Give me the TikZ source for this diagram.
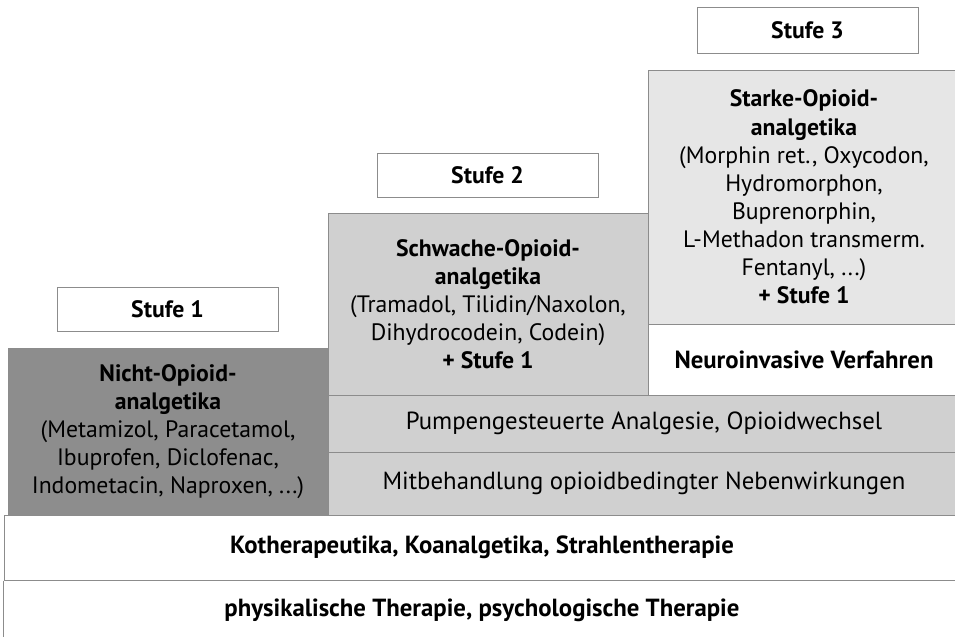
\documentclass[tikz,border=0pt]{standalone}
\usepackage{fontspec}
\setmainfont{PT Sans}
\newcommand\stsize{\fontsize{13.5}{16}\selectfont}
\newcommand\bigsize{\fontsize{14.1}{16}\selectfont}
\definecolor{dgray}  {RGB}{141,141,141}
\definecolor{mgray}  {RGB}{208,208,208}
\definecolor{lgray}  {RGB}{230,230,230}
\definecolor{lined}  {RGB}{140,140,140}
\tikzset{
    stufe/.style={draw=lined, fill=white, line width=0.5pt, font=\stsize\bfseries,
             minimum width=4.42cm, minimum height=0.88cm, inner sep=0pt},
    stage/.style={draw=lined, line width=0.5pt, align=center, inner sep=0pt, font=\stsize},
    band/.style={draw=lined, fill=mgray, line width=0.5pt, inner sep=0pt, font=\bigsize,
             minimum width=12.64cm},
    base/.style={draw=lined, fill=white, line width=0.5pt, inner sep=0pt,
             font=\bigsize\bfseries, minimum width=19.12cm}
  }

\begin{document}
\begin{tikzpicture}
  \useasboundingbox (0,0) rectangle (19.1,-12.74);
  %Basis
      \node[base, minimum height=1.3cm] (kother) at (9.64,-10.95)
        {Kotherapeutika, Koanalgetika, Strahlentherapie};
      \node[base, draw=none, minimum height=1.16cm] (physik) at (9.64,-12.2)
        {physikalische Therapie, psychologische Therapie};
      \draw[lined, line width=0.5pt] (physik.north west) -- (physik.south west);
  %Stufe 1
      \node[stage, fill=dgray, minimum width=6.4cm, minimum height=3.34cm] (nicht) at (3.36,-8.63)
        {\textbf{Nicht-Opioid-}\\\textbf{analgetika}\\(Metamizol, Paracetamol,\\Ibuprofen, Diclofenac,\\Indometacin, Naproxen, ...)};
      \node[stufe] (s1lab) at (3.35,-6.18) {Stufe 1};
  %Stufe 2
      \node[band, minimum height=1.26cm] (mitbeh) at (12.88,-9.67)
        {Mitbehandlung opioidbedingter Nebenwirkungen};
      \node[band, minimum height=1.14cm] (pumpe) at (12.88,-8.47)
        {Pumpengesteuerte Analgesie, Opioidwechsel};
      \node[stage, fill=mgray, minimum width=6.4cm, minimum height=3.64cm] (schwach) at (9.76,-6.08)
        {\textbf{Schwache-Opioid-}\\\textbf{analgetika}\\(Tramadol, Tilidin/Naxolon,\\Dihydrocodein, Codein)\\\textbf{+ Stufe 1}};
      \node[stufe] (s2lab) at (9.75,-3.5) {Stufe 2};
  %Stufe 3
      \node[stage, fill=white, font=\bigsize\bfseries, minimum width=6.24cm, minimum height=1.42cm] (neuro) at (16.08,-7.19)
        {Neuroinvasive Verfahren};
      \node[stage, fill=lgray, minimum width=6.24cm, minimum height=5.08cm] (starke) at (16.08,-3.94)
        {\textbf{Starke-Opioid-}\\\textbf{analgetika}\\(Morphin ret., Oxycodon,\\Hydromorphon,\\Buprenorphin,\\L-Methadon transmerm.\\Fentanyl, ...)\\\textbf{+ Stufe 1}};
      \node[stufe, minimum height=0.92cm] (s3lab) at (16.15,-0.6) {Stufe 3};
\end{tikzpicture}
\end{document}
